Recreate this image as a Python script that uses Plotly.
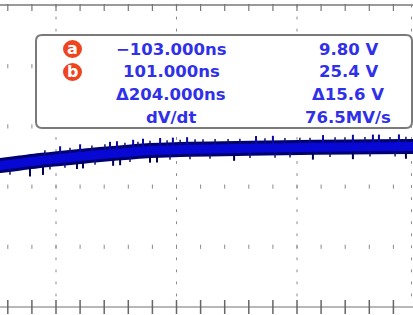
import plotly.graph_objects as go

# ---- data (graticule divisions: x = minor divisions, y = major divisions) ----
wave_x = [-2.45, -2.32, -1.49, -0.66, 0.17, 1.00, 1.83, 2.86, 3.90, 5.15, 6.39, 8.05, 10.12, 12.20, 14.81, 14.95]
wave_y = [2.345, 2.350, 2.392, 2.434, 2.467, 2.500, 2.533, 2.566, 2.600, 2.616, 2.625, 2.636, 2.650, 2.658, 2.666, 2.667]

spike_dn_x = [-1.08, -0.54, 0.87, 1.12, 2.37, 2.66, 3.90, 4.19, 7.39, 10.66, 12.32, 14.52]
spike_dn_y = [2.238, 2.264, 2.362, 2.372, 2.415, 2.425, 2.467, 2.470, 2.498, 2.518, 2.525, 2.532]
spike_up_x = [0.17, 1.00, 2.24, 2.53, 3.20, 3.61, 4.32, 4.85, 5.44, 8.30, 9.00, 11.08, 12.32, 13.15, 13.40, 14.23]
spike_up_y = [2.600, 2.633, 2.674, 2.684, 2.708, 2.724, 2.738, 2.744, 2.751, 2.771, 2.774, 2.786, 2.791, 2.794, 2.794, 2.797]

fuzz_up_x = [-0.46, 0.58, 1.49, 2.03, 2.86, 3.40, 3.90, 4.61, 5.15, 5.77, 6.10, 6.60, 7.14, 7.63,
             8.67, 9.50, 10.12, 10.54, 11.58, 11.99, 12.82, 13.86, 14.52]
fuzz_up_y = [2.558, 2.600, 2.638, 2.656, 2.683, 2.699, 2.716, 2.724, 2.733, 2.738, 2.741, 2.743, 2.746, 2.749,
             2.756, 2.761, 2.766, 2.767, 2.772, 2.774, 2.776, 2.779, 2.781]
fuzz_dn_x = [-1.91, -0.25, 0.37, 1.62, 3.07, 4.73, 5.56, 6.39, 8.05, 9.09, 9.71, 11.37, 13.03, 14.07]
fuzz_dn_y = [2.244, 2.332, 2.359, 2.410, 2.455, 2.493, 2.502, 2.508, 2.520, 2.525, 2.528, 2.538, 2.545, 2.546]

minor_cols = list(range(-2, 15))
major_cols = [0, 5, 10, 14.75]
grid_rows = [1, 2, 3, 4]
top_row = 5.017
bottom_row = 0.0

cursor_marks = ["a", "b"]
time_labels = ["\u2212103.000ns", "101.000ns", "\u0394204.000ns", "dV/dt"]
volt_labels = ["9.80 V", "25.4 V", "\u039415.6 V", "76.5MV/s"]

W, H = 413, 315
X_RANGE = [-56 / 24.1, (W - 56) / 24.1]
Y_RANGE = [-8 / 60.2, 307 / 60.2]


def px(x):
    return x / W


def py(y):
    return 1 - y / H


fig = go.Figure()

# row dots
rx, ry = [], []
for r in grid_rows:
    for c in minor_cols:
        rx.append(c)
        ry.append(r)
fig.add_trace(go.Scatter(x=rx, y=ry, mode="markers",
                         marker=dict(symbol="line-ns", size=3, line=dict(width=1, color="#8a8a8a")),
                         hoverinfo="skip"))

# major column dots
levels = [i * 0.2 for i in range(1, 26)]
cx, cy = [], []
for c in major_cols:
    for lv in levels:
        cx.append(c)
        cy.append(lv)
fig.add_trace(go.Scatter(x=cx, y=cy, mode="markers",
                         marker=dict(symbol="line-ns", size=2, line=dict(width=1, color="#8a8a8a")),
                         hoverinfo="skip"))

# top border ticks
fig.add_trace(go.Scatter(x=minor_cols, y=[top_row - 0.04] * len(minor_cols), mode="markers",
                         marker=dict(symbol="line-ns", size=5, line=dict(width=1.2, color="#777777")),
                         hoverinfo="skip"))
# bottom border ticks
fig.add_trace(go.Scatter(x=minor_cols, y=[bottom_row] * len(minor_cols), mode="markers",
                         marker=dict(symbol="line-ns", size=10, line=dict(width=1.5, color="#666666")),
                         hoverinfo="skip"))

# waveform: dark envelope + blue core + noise spikes
fig.add_trace(go.Scatter(x=wave_x, y=wave_y, mode="lines", line=dict(color="#000070", width=15, shape="spline"),
                         hoverinfo="skip"))
fig.add_trace(go.Scatter(x=fuzz_up_x, y=fuzz_up_y, mode="markers",
                         marker=dict(symbol="line-ns", size=4, line=dict(width=1.5, color="#101070")),
                         hoverinfo="skip"))
fig.add_trace(go.Scatter(x=fuzz_dn_x, y=fuzz_dn_y, mode="markers",
                         marker=dict(symbol="line-ns", size=4, line=dict(width=1.5, color="#101070")),
                         hoverinfo="skip"))
fig.add_trace(go.Scatter(x=spike_dn_x, y=spike_dn_y, mode="markers",
                         marker=dict(symbol="line-ns", size=6, line=dict(width=2, color="#000050")),
                         hoverinfo="skip"))
fig.add_trace(go.Scatter(x=spike_up_x, y=spike_up_y, mode="markers",
                         marker=dict(symbol="line-ns", size=6, line=dict(width=2, color="#0a0aa0")),
                         hoverinfo="skip"))
fig.add_trace(go.Scatter(x=wave_x, y=wave_y, mode="lines", line=dict(color="#0808d4", width=9, shape="spline"),
                         hoverinfo="skip"))

shapes = [
    dict(type="line", xref="paper", yref="y", x0=0, x1=1, y0=top_row, y1=top_row,
         line=dict(color="#9a9a9a", width=2), layer="below"),
    dict(type="line", xref="paper", yref="y", x0=0, x1=1, y0=bottom_row, y1=bottom_row,
         line=dict(color="#b8b8b8", width=2), layer="below"),
]

# rounded readout box
x0, x1, y0, y1, r = 36, 412, 35, 128, 6
path = (f"M {px(x0 + r)},{py(y0)} L {px(x1 - r)},{py(y0)} Q {px(x1)},{py(y0)} {px(x1)},{py(y0 + r)} "
        f"L {px(x1)},{py(y1 - r)} Q {px(x1)},{py(y1)} {px(x1 - r)},{py(y1)} "
        f"L {px(x0 + r)},{py(y1)} Q {px(x0)},{py(y1)} {px(x0)},{py(y1 - r)} "
        f"L {px(x0)},{py(y0 + r)} Q {px(x0)},{py(y0)} {px(x0 + r)},{py(y0)} Z")
shapes.append(dict(type="path", xref="paper", yref="paper", path=path, fillcolor="white",
                   line=dict(color="#7a7a7a", width=2), layer="above"))

row_y = [49, 72, 94, 117]
annotations = []
for i, m in enumerate(cursor_marks):
    cyy = row_y[i]
    shapes.append(dict(type="circle", xref="paper", yref="paper",
                       x0=px(72.5 - 9.5), x1=px(72.5 + 9.5), y0=py(cyy + 9), y1=py(cyy - 9),
                       fillcolor="#ee4420", line=dict(color="#ee4420", width=0), layer="above"))
    annotations.append(dict(x=px(72.5), y=py(cyy - 0.5), xref="paper", yref="paper", text=f"<b>{m}</b>",
                            showarrow=False, xanchor="center", yanchor="middle",
                            font=dict(family="DejaVu Sans", size=16, color="white")))

for i in range(4):
    annotations.append(dict(x=px(171), y=py(row_y[i]), xref="paper", yref="paper", text=f"<b>{time_labels[i]}</b>",
                            showarrow=False, xanchor="center", yanchor="middle",
                            font=dict(family="DejaVu Sans", size=16.5, color="#3030ea")))
    annotations.append(dict(x=px(348), y=py(row_y[i]), xref="paper", yref="paper", text=f"<b>{volt_labels[i]}</b>",
                            showarrow=False, xanchor="center", yanchor="middle",
                            font=dict(family="DejaVu Sans", size=16.5, color="#3030ea")))

fig.update_layout(
    width=W, height=H, autosize=False,
    margin=dict(l=0, r=0, t=0, b=0, pad=0),
    paper_bgcolor="white", plot_bgcolor="white",
    showlegend=False,
    xaxis=dict(range=X_RANGE, visible=False, fixedrange=True),
    yaxis=dict(range=Y_RANGE, visible=False, fixedrange=True),
    shapes=shapes, annotations=annotations,
)

fig.write_html("out.html", config={"displayModeBar": False},
               post_script="document.body.style.margin='0';document.body.style.overflow='hidden';")
